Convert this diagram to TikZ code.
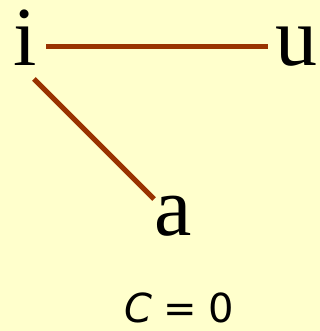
\documentclass[tikz,border=0pt]{standalone}
\usepackage{fontspec}
\setmainfont{Liberation Serif}
\newfontfamily\labelfont{DejaVu Sans}
\definecolor{bgyellow}{HTML}{FFFFCC}
\definecolor{linkbrown}{HTML}{993300}
\begin{document}
\begin{tikzpicture}[x=1pt,y=-1pt,
  letter/.style={inner sep=0pt, anchor=base, font=\fontsize{84}{84}\selectfont},
  link/.style={draw=linkbrown, line width=5pt},
  caption/.style={inner sep=0pt, text depth=0pt, anchor=base, font=\labelfont\fontsize{40}{40}\selectfont}]
\fill[bgyellow] (0,0) rectangle (320,331);
\useasboundingbox (0,0) rectangle (320,331);
\node[letter] (i) at (25,66) {i};
\node[letter] (u) at (296,66) {u};
\node[letter] (a) at (173,235) {a};
\node[caption] (c) at (179,322) {\textit{C}\hspace{11pt}=\hspace{11pt}0};
\draw[link] ([shift={(21,-19)}]i.base) -- ([shift={(-28,-19)}]u.base);
\draw[link] ([shift={(9,13)}]i.base) -- ([shift={(-19,-36)}]a.base);
\end{tikzpicture}
\end{document}
